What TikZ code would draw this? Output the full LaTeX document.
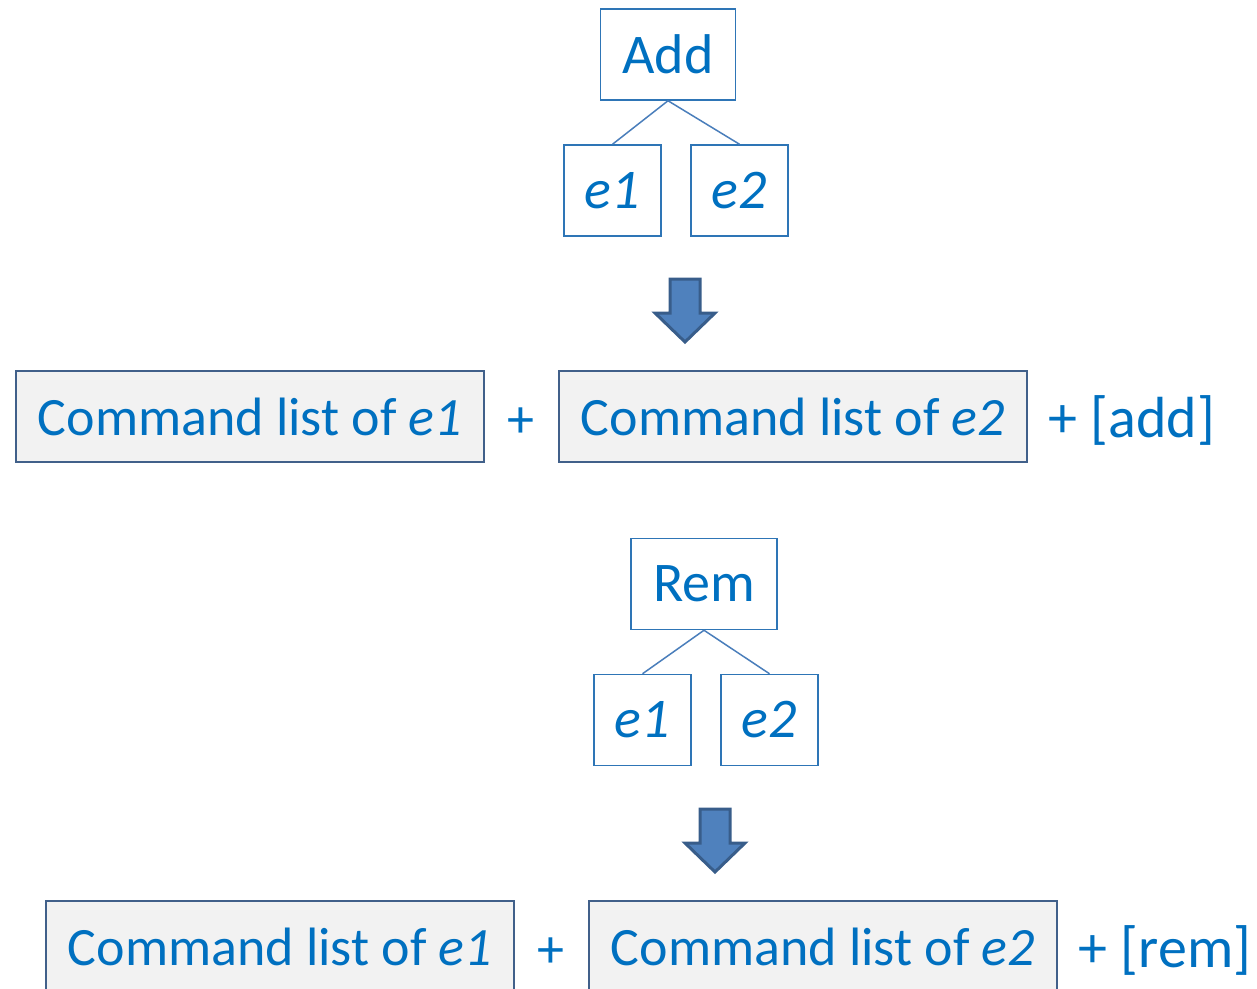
\documentclass[tikz,border=0pt]{standalone}
\usepackage{fontspec}
\setmainfont{Carlito}
\usetikzlibrary{arrows}
\definecolor{txtblue}{HTML}{0070C0}
\definecolor{boxblue}{HTML}{2E75B6}
\definecolor{linkblue}{HTML}{4A7EBB}
\definecolor{listedge}{HTML}{41608A}
\definecolor{listfill}{HTML}{F2F2F2}
\definecolor{arrfill}{HTML}{4F81BD}
\definecolor{arredge}{HTML}{385D8A}
\tikzset{
  treebox/.style={draw=boxblue,line width=1.5pt,text=txtblue,inner xsep=22pt,
                  minimum height=91pt,font=\fontsize{56}{60}\selectfont},
  leafbox/.style={treebox,minimum width=97pt,inner xsep=0pt},
  listbox/.style={draw=listedge,fill=listfill,line width=2pt,text=txtblue,
                  minimum width=468pt,minimum height=91pt,font=\fontsize{54}{60}\selectfont},
  plus/.style={text=txtblue,anchor=base,font=\fontsize{54}{60}\selectfont},
  oplabel/.style={plus,font=\fontsize{58}{60}\selectfont},
  link/.style={draw=linkblue,line width=1.5pt},
  blockarrow/.style={fill=arrfill,draw=arredge,line width=3pt,line join=miter}
}
\begin{document}
\begin{tikzpicture}[x=1pt,y=-1pt]
\useasboundingbox (0,0) rectangle (1257,988);

% first tree
\node[treebox] (add) at (668,54.5) {Add};
\node[leafbox] (e1a) at (612.5,190.5) {\textit{e1}};
\node[leafbox] (e2a) at (739.5,190.5) {\textit{e2}};
\draw[link] (add.south) -- (e1a.north);
\draw[link] (add.south) -- (e2a.north);

\draw[blockarrow] (670,279) -- (700,279) -- (700,313) -- (715,313) -- (685,342)
  -- (655,313) -- (670,313) -- cycle;

\node[listbox] (lista1) at (250,416.5) {Command list of \textit{e1}};
\node[plus] (plusa) at (521,437) {+};
\node[listbox] (lista2) at (793,416.5) {Command list of \textit{e2}};
\node[oplabel] (opa) at (1132,437) {+ [add]};

% second tree
\node[treebox] (rem) at (704,584) {Rem};
\node[leafbox] (e1b) at (642.5,720) {\textit{e1}};
\node[leafbox] (e2b) at (769.5,720) {\textit{e2}};
\draw[link] (rem.south) -- (e1b.north);
\draw[link] (rem.south) -- (e2b.north);

\draw[blockarrow] (700,809) -- (730,809) -- (730,843) -- (745,843) -- (715,872)
  -- (685,843) -- (700,843) -- cycle;

\node[listbox] (listb1) at (280,946.5) {Command list of \textit{e1}};
\node[plus] (plusb) at (551,967) {+};
\node[listbox] (listb2) at (823,946.5) {Command list of \textit{e2}};
\node[oplabel] (opb) at (1165,967) {+ [rem]};
\end{tikzpicture}
\end{document}
